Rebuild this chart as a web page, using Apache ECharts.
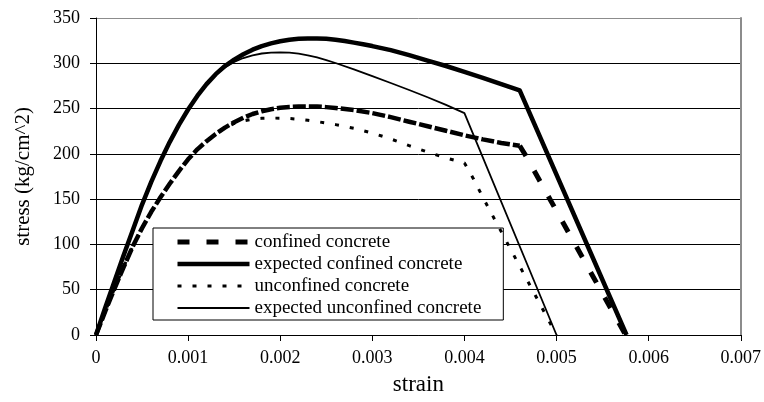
<!DOCTYPE html>
<html>
<head>
<meta charset="utf-8">
<script src="https://cdn.jsdelivr.net/npm/echarts@6/dist/echarts.min.js"></script>
<style>
  html, body { margin: 0; padding: 0; background: #ffffff; }
  #chart { width: 764px; height: 402px; }
</style>
</head>
<body>
<div id="chart"></div>
<script>
// Axis tick labels
const xTickLabels = ['0', '0.001', '0.002', '0.003', '0.004', '0.005', '0.006', '0.007'];
const yTickLabels = ['0', '50', '100', '150', '200', '250', '300', '350'];

const seriesNames = [
  'confined concrete',
  'expected confined concrete',
  'unconfined concrete',
  'expected unconfined concrete'
];

// confined concrete (measured)
const confinedStrain = [0, 0.0001, 0.0002, 0.0003, 0.0004, 0.0005, 0.0006, 0.0007, 0.0008, 0.0009,
  0.001, 0.0011, 0.0012, 0.0013, 0.0014, 0.0015, 0.0016, 0.0017, 0.0018, 0.0019,
  0.002, 0.0021, 0.0022, 0.0023, 0.0024, 0.0025, 0.0026, 0.0028, 0.003, 0.0032,
  0.0034, 0.0036, 0.0038, 0.004, 0.0042, 0.0044, 0.0046, 0.00466, 0.00575];
const confinedStress = [0, 26, 51, 75, 98, 118, 136, 152, 167, 181,
  194, 205, 214, 222, 229, 235, 240, 244, 247, 249.3,
  250.8, 251.8, 252.3, 252.4, 252.2, 251.6, 250.7, 248.3, 245, 240.5,
  235.5, 230.5, 225.5, 220.5, 216, 212, 209, 199, 0];

// expected confined concrete (model)
const expConfinedStrain = [0, 0.0001, 0.0002, 0.0003, 0.0004, 0.0005, 0.0006, 0.0007, 0.0008, 0.0009,
  0.001, 0.0011, 0.0012, 0.0013, 0.0014, 0.0015, 0.0016, 0.0017, 0.0018, 0.0019,
  0.002, 0.0021, 0.0022, 0.0023, 0.0024, 0.0025, 0.0026, 0.0027, 0.0028, 0.0029,
  0.003, 0.0032, 0.0034, 0.0036, 0.0038, 0.004, 0.0042, 0.0044, 0.0046, 0.00576];
const expConfinedStress = [0, 30, 59, 88, 116, 144, 169, 192, 213, 232,
  249, 264, 277, 288, 297, 304, 310, 315, 319, 322,
  324.3, 326, 327, 327.5, 327.5, 327, 326, 324.5, 322.8, 321,
  319, 314.5, 309, 303, 297, 290.5, 284, 277, 270, 0];

// unconfined concrete (measured)
const unconfinedStrain = [0, 0.0001, 0.0002, 0.0003, 0.0004, 0.0005, 0.0006, 0.0007, 0.0008, 0.0009,
  0.001, 0.0011, 0.0012, 0.0013, 0.0014, 0.0015, 0.0016, 0.0017, 0.0018, 0.0019,
  0.002, 0.0021, 0.0022, 0.0023, 0.0024, 0.0025, 0.0026, 0.0028, 0.003, 0.0032,
  0.0034, 0.0036, 0.0038, 0.004, 0.0041, 0.0042, 0.005];
const unconfinedStress = [0, 26, 51, 75, 98, 118, 136, 152, 167, 181,
  194, 205, 214, 222, 228.5, 233.5, 236.5, 238.3, 239.2, 239.5,
  239.4, 239, 238.2, 237, 235.6, 234, 232.3, 228.3, 223, 216.5,
  209, 202, 195.5, 190, 172, 152, 0];

// expected unconfined concrete (model)
const expUnconfinedStrain = [0, 0.0001, 0.0002, 0.0003, 0.0004, 0.0005, 0.0006, 0.0007, 0.0008, 0.0009,
  0.001, 0.0011, 0.0012, 0.0013, 0.0014, 0.0015, 0.0016, 0.0017, 0.0018, 0.0019,
  0.002, 0.0021, 0.0022, 0.0023, 0.0024, 0.0025, 0.0026, 0.0028, 0.003, 0.0032,
  0.0034, 0.0036, 0.0038, 0.004, 0.005];
const expUnconfinedStress = [0, 30, 59, 88, 116, 144, 169, 192, 213, 232,
  249, 264, 277, 287.5, 295.5, 301.5, 305.8, 308.8, 310.8, 311.8,
  312, 311.7, 310.6, 308.8, 306.4, 303.5, 300.3, 293.3, 285.8, 278.2,
  270.5, 262.5, 254, 245, 0];

const pairs = (xs, ys) => xs.map((x, i) => [x, ys[i]]);

// The measured confined curve: its long straight unloading branch shows a wide dash,
// the densely sampled part reads almost continuous.
const confinedPts = pairs(confinedStrain, confinedStress);
const splitAt = confinedStrain.indexOf(0.0046);
const confinedTail = confinedPts.slice(splitAt);
const confinedHead = confinedPts.slice(0, splitAt + 1);

const serif = 'Liberation Serif, Times New Roman, serif';
const noMarker = { color: 'rgba(0,0,0,0)', borderColor: 'rgba(0,0,0,0)', borderWidth: 0 };

const chart = echarts.init(document.getElementById('chart'), null, { renderer: 'canvas' });

chart.setOption({
  animation: false,
  backgroundColor: '#ffffff',
  textStyle: { fontFamily: serif, color: '#000' },
  grid: { left: 96, right: 23, top: 18, bottom: 67, containLabel: false },
  legend: {
    orient: 'vertical',
    left: 153,
    top: 228,
    data: [
      { name: seriesNames[0], itemStyle: noMarker, lineStyle: { color: '#000', width: 5, type: [12, 17] } },
      { name: seriesNames[1], itemStyle: noMarker, lineStyle: { color: '#000', width: 4.5, type: 'solid' } },
      { name: seriesNames[2], itemStyle: noMarker, lineStyle: { color: '#000', width: 3, type: [4, 11] } },
      { name: seriesNames[3], itemStyle: noMarker, lineStyle: { color: '#000', width: 2, type: 'solid' } }
    ],
    backgroundColor: '#ffffff',
    borderColor: '#000000',
    borderWidth: 1,
    borderRadius: 0,
    padding: [4, 22, 2, 22],
    itemWidth: 72,
    itemHeight: 14,
    itemGap: 2,
    selectedMode: false,
    textStyle: { fontFamily: serif, fontSize: 19, color: '#000', lineHeight: 20 }
  },
  xAxis: {
    type: 'value',
    min: 0,
    max: 0.007,
    interval: 0.001,
    name: 'strain',
    nameLocation: 'middle',
    nameGap: 38,
    nameTextStyle: { fontFamily: serif, fontSize: 23, color: '#000' },
    axisLine: { onZero: false, lineStyle: { color: '#000', width: 1 } },
    axisTick: { show: true, inside: false, length: 6, lineStyle: { color: '#000' } },
    axisLabel: {
      margin: 14,
      fontFamily: serif, fontSize: 18, color: '#000',
      formatter: v => xTickLabels[Math.round(v / 0.001)]
    },
    splitLine: { show: false }
  },
  yAxis: [{
    type: 'value',
    min: 0,
    max: 350,
    interval: 50,
    name: 'stress (kg/cm^2)',
    nameLocation: 'middle',
    nameGap: 62,
    nameTextStyle: { fontFamily: serif, fontSize: 21, color: '#000' },
    axisLine: { show: true, lineStyle: { color: '#000', width: 1 } },
    axisTick: { show: true, inside: false, length: 6, lineStyle: { color: '#000' } },
    axisLabel: {
      margin: 16,
      fontFamily: serif, fontSize: 18, color: '#000',
      formatter: v => yTickLabels[Math.round(v / 50)]
    },
    splitLine: {
      show: true,
      lineStyle: { color: ['#000', '#000', '#000', '#000', '#000', '#000', '#000', '#8c8c8c'], width: 1 }
    }
  }, {
    // right-hand frame of the plot area
    type: 'value',
    position: 'right',
    min: 0,
    max: 350,
    interval: 50,
    axisLine: { show: true, lineStyle: { color: '#8c8c8c', width: 2 } },
    axisTick: { show: false },
    axisLabel: { show: false },
    splitLine: { show: false }
  }],
  series: [
    {
      name: seriesNames[0],
      type: 'line',
      data: confinedTail,
      symbol: 'none',
      itemStyle: noMarker,
      lineStyle: { color: '#000', width: 5, type: [12, 17] },
      z: 2
    },
    {
      name: seriesNames[0],
      type: 'line',
      data: confinedHead,
      symbol: 'none',
      itemStyle: noMarker,
      lineStyle: { color: '#000', width: 4.5, type: [13, 3] },
      z: 2
    },
    {
      name: seriesNames[1],
      type: 'line',
      data: pairs(expConfinedStrain, expConfinedStress),
      symbol: 'none',
      itemStyle: noMarker,
      lineStyle: { color: '#000', width: 4.5, type: 'solid', join: 'round' },
      z: 3
    },
    {
      name: seriesNames[2],
      type: 'line',
      data: pairs(unconfinedStrain, unconfinedStress),
      symbol: 'none',
      itemStyle: noMarker,
      lineStyle: { color: '#000', width: 3, type: [4, 11] },
      z: 4
    },
    {
      name: seriesNames[3],
      type: 'line',
      data: pairs(expUnconfinedStrain, expUnconfinedStress),
      symbol: 'none',
      itemStyle: noMarker,
      lineStyle: { color: '#000', width: 1.8, type: 'solid', join: 'round' },
      z: 5
    }
  ]
});
</script>
</body>
</html>
